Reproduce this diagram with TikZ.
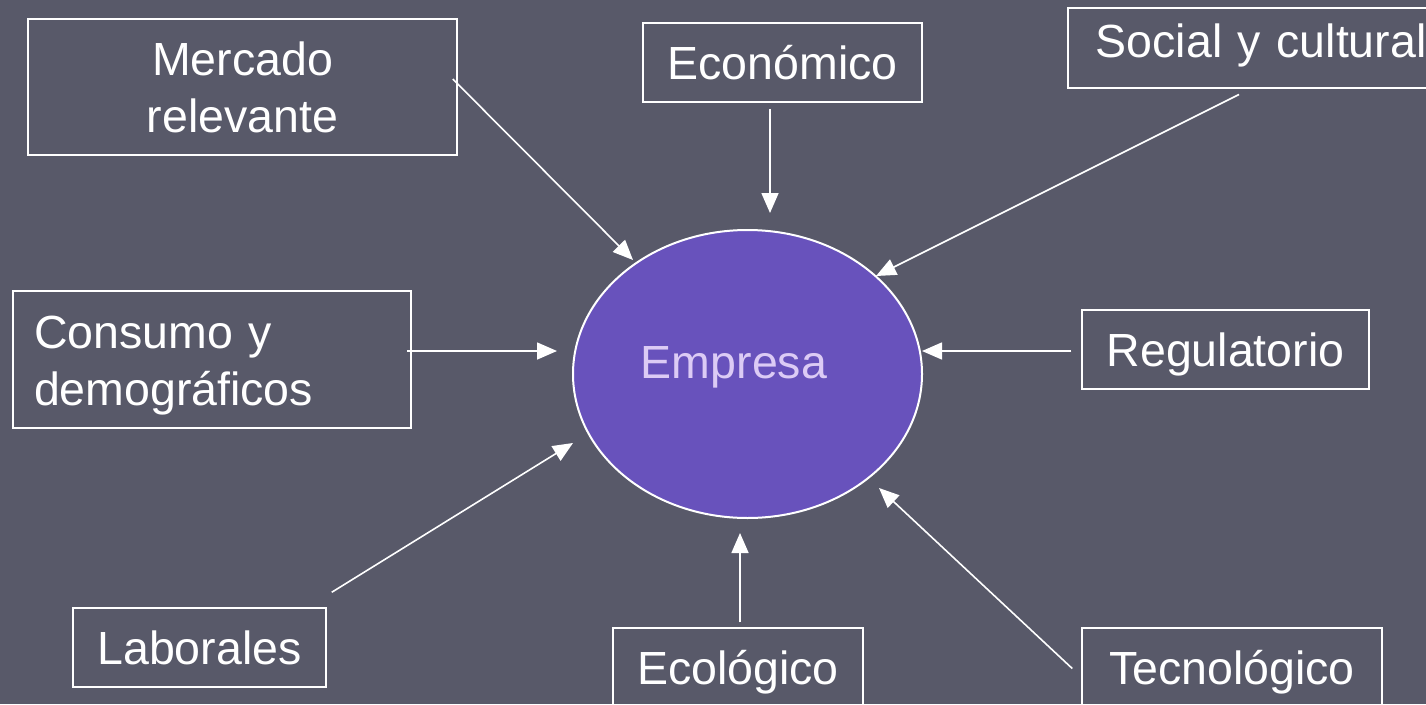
\documentclass[tikz,border=0pt]{standalone}
\usepackage{fontspec}
\setmainfont{Liberation Sans}
\usetikzlibrary{arrows.meta,calc,shapes.geometric}
\definecolor{bgcol}{HTML}{585969}
\definecolor{empfill}{HTML}{6852BC}
\definecolor{emptext}{HTML}{DCCBF5}
\tikzset{
  every node/.style={font=\fontsize{46.5}{57}\selectfont, text=white},
  box/.style={draw=white, line width=1.5pt, rectangle, inner sep=0pt,
              text height=34pt, text depth=0pt},
  arr/.style={draw=white, line width=1.6pt, -{Triangle[length=20pt,width=17pt]}},
}
\begin{document}
\begin{tikzpicture}[x=1pt,y=-1pt]
\useasboundingbox (0,0) rectangle (1426,704);
\clip (0,0) rectangle (1426,704);
\fill[bgcol] (0,0) rectangle (1426,704);

% central ellipse
\node[ellipse, draw=white, line width=2pt, fill=empfill, inner sep=0pt,
      minimum width=349pt, minimum height=288pt] (emp) at (747.5,374) {};
\node[text=emptext, anchor=base, inner sep=0pt] (emptxt) at (734,378) {Empresa};

% boxes
\node[box, minimum width=429pt, minimum height=136pt, text width=429pt,
      align=center, text depth=57pt] (merc) at (242.5,87) {Mercado\\relevante};
\node[box, minimum width=279pt, minimum height=79pt] (econ) at (782.5,62.5) {Económico};
\node[box, anchor=north west, text width=340pt, inner xsep=28pt, align=left,
      minimum height=80pt, text depth=14pt] (soc) at (1067,7) {Social y cultural};
\node[box, minimum width=398pt, minimum height=137pt, text width=356pt,
      inner xsep=21pt, align=left, text depth=57pt] (cons) at (212,359.5) {Consumo y\\demográficos};
\node[box, minimum width=287pt, minimum height=79pt] (reg) at (1225.5,349.5) {Regulatorio};
\node[box, minimum width=253pt, minimum height=79pt] (lab) at (199.5,647.5) {Laborales};
\node[box, minimum width=250pt, minimum height=78pt] (eco) at (738,667) {Ecológico};
\node[box, minimum width=300pt, minimum height=78pt] (tec) at (1232,667) {Tecnológico};

% connectors
\draw[arr] ($(merc.east)+(-5,-8)$) -- ($(emp.center)+(-114.5,-114)$);
\draw[arr] ($(econ.south)+(-12.5,6)$) -- ($(emp.center)+(22.5,-161)$);
\draw[arr] ($(soc.south west)+(172,6)$) -- ($(emp.center)+(128.5,-98)$);
\draw[arr] ($(cons.east)+(-5,-8.5)$) -- ($(emp.center)+(-190.5,-23)$);
\draw[arr] ($(reg.west)+(-10,1.5)$) -- ($(emp.center)+(174.5,-23)$);
\draw[arr] ($(lab.north east)+(5,-15)$) -- ($(emp.center)+(-174.5,69)$);
\draw[arr] ($(eco.north)+(2,-5)$) -- ($(emp.center)+(-7.5,159)$);
\draw[arr] ($(tec.west)+(-9,1.5)$) -- ($(emp.center)+(131.5,114)$);
\end{tikzpicture}
\end{document}
